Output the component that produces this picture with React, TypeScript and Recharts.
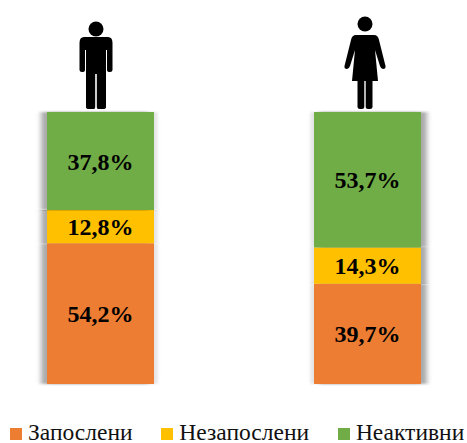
import React from 'react';
import { BarChart, Bar, XAxis, YAxis, Cell, LabelList, Legend } from 'recharts';

const genders = ['men', 'women'];
const employed = [54.2, 39.7];
const unemployed = [12.8, 14.3];
const inactive = [37.8, 53.7];

const chartData = genders.map((name, i) => ({
    name,
    employed: employed[i],
    unemployed: unemployed[i],
    inactive: inactive[i],
}));

const ORANGE = '#ED7D31';
const YELLOW = '#FFC000';
const GREEN = '#70AD47';

const formatPct = (v: number) => v.toFixed(1).replace('.', ',') + '%';

// dark shadow on the outer side, a faint one on the inner side
function ShadowFilter({ id, dx, y, height, blurY }: { id: string; dx: number; y: number; height: number; blurY: number }) {
    return (
        <filter id={id} x="-20%" width="140%" y={y} height={height}>
            <feDropShadow dx={dx} dy={0} stdDeviation={`2.5 ${blurY}`} floodColor="#000" floodOpacity={0.32} result="main" />
            <feDropShadow in="main" dx={-dx * 0.6} dy={0} stdDeviation={`1.5 ${blurY}`} floodColor="#000" floodOpacity={0.1} />
        </filter>
    );
}

function FigureTick({ x, y, payload }: any) {
    if (payload.value === 'men') {
        return (
            <g transform={`translate(${x - 4.5},${y})`} fill="#000">
                <circle cx={0} cy={-83} r={7.5} />
                <path d="M-12,-75 H12 Q16.5,-75 16.5,-69 V-42 Q16.5,-40 14,-40 Q11,-40 11,-42 V-62 H10 V-5 Q10,-3 7,-3 H2 Q0.8,-3 0.8,-5 V-38 H-0.8 V-5 Q-0.8,-3 -2,-3 H-7 Q-10,-3 -10,-5 V-62 H-11 V-42 Q-11,-40 -14,-40 Q-16.5,-40 -16.5,-42 V-69 Q-16.5,-75 -12,-75 Z" />
            </g>
        );
    }
    return (
        <g transform={`translate(${x - 2.5},${y})`} fill="#000">
            <circle cx={0} cy={-88} r={7.5} />
            <path d="M-9,-77 H9 Q13,-77 14,-72 L20.5,-46 Q21,-43 18,-43 Q16,-43 15,-46 L10,-62 L13,-31 H-13 L-10,-62 L-15,-46 Q-16,-43 -18,-43 Q-21,-43 -20.5,-46 L-14,-72 Q-13,-77 -9,-77 Z" />
            <path d="M-7.5,-32 H-0.7 V-5 Q-0.7,-3 -3,-3 H-5 Q-7.5,-3 -7.5,-5 Z" />
            <path d="M7.5,-32 H0.7 V-5 Q0.7,-3 3,-3 H5 Q7.5,-3 7.5,-5 Z" />
        </g>
    );
}

function BottomLegend({ payload }: any) {
    return (
        <div style={{ display: 'flex', gap: 28.8, paddingLeft: 10, fontFamily: '"Liberation Serif", serif', fontSize: 23.5, color: '#111', lineHeight: '21px' }}>
            {(payload || []).map((item: any) => (
                <div key={item.value} style={{ display: 'flex', alignItems: 'center', gap: 6, whiteSpace: 'nowrap' }}>
                    <span style={{ width: 12, height: 12, marginTop: 3, background: item.color, display: 'inline-block' }} />
                    <span>{item.value}</span>
                </div>
            ))}
        </div>
    );
}

const labelStyle = { fontFamily: '"Liberation Serif", serif', fontSize: 24, fontWeight: 'bold', fill: '#000' };

export default function App() {
    return (
        <div style={{ position: 'absolute', left: 0, top: 0, width: 467, height: 443, overflow: 'hidden', background: '#fff' }}>
            <BarChart
                width={467}
                height={443}
                data={chartData}
                stackOffset="expand"
                barSize={107}
                margin={{ top: 111, right: -34, bottom: 38, left: -33 }}
            >
                <defs>
                    <ShadowFilter id="topL" dx={-6} y={-0.03} height={1.03} blurY={0.8} />
                    <ShadowFilter id="topR" dx={6} y={-0.03} height={1.03} blurY={0.8} />
                    <ShadowFilter id="midL" dx={-6} y={0} height={1} blurY={0} />
                    <ShadowFilter id="midR" dx={6} y={0} height={1} blurY={0} />
                    <ShadowFilter id="botL" dx={-6} y={0} height={1.04} blurY={0.8} />
                    <ShadowFilter id="botR" dx={6} y={0} height={1.04} blurY={0.8} />
                </defs>
                <XAxis dataKey="name" orientation="top" height={1} axisLine={false} tickLine={false} tickSize={0} tickMargin={0} tick={<FigureTick />} interval={0} />
                <YAxis hide domain={[0, 1]} />
                <Legend
                    content={<BottomLegend />}
                    itemSorter={null}
                    wrapperStyle={{ position: 'absolute', left: 0, top: 422, width: 467, bottom: 'auto' }}
                />
                <Bar dataKey="employed" name="Запослени" stackId="a" fill={ORANGE} isAnimationActive={false}>
                    <Cell filter="url(#botL)" />
                    <Cell filter="url(#botR)" />
                    <LabelList dataKey="employed" position="center" formatter={formatPct} style={labelStyle} />
                </Bar>
                <Bar dataKey="unemployed" name="Незапослени" stackId="a" fill={YELLOW} isAnimationActive={false}>
                    <Cell filter="url(#midL)" />
                    <Cell filter="url(#midR)" />
                    <LabelList dataKey="unemployed" position="center" formatter={formatPct} style={labelStyle} />
                </Bar>
                <Bar dataKey="inactive" name="Неактивни" stackId="a" fill={GREEN} isAnimationActive={false}>
                    <Cell filter="url(#topL)" />
                    <Cell filter="url(#topR)" />
                    <LabelList dataKey="inactive" position="center" formatter={formatPct} style={labelStyle} />
                </Bar>
            </BarChart>
        </div>
    );
}
